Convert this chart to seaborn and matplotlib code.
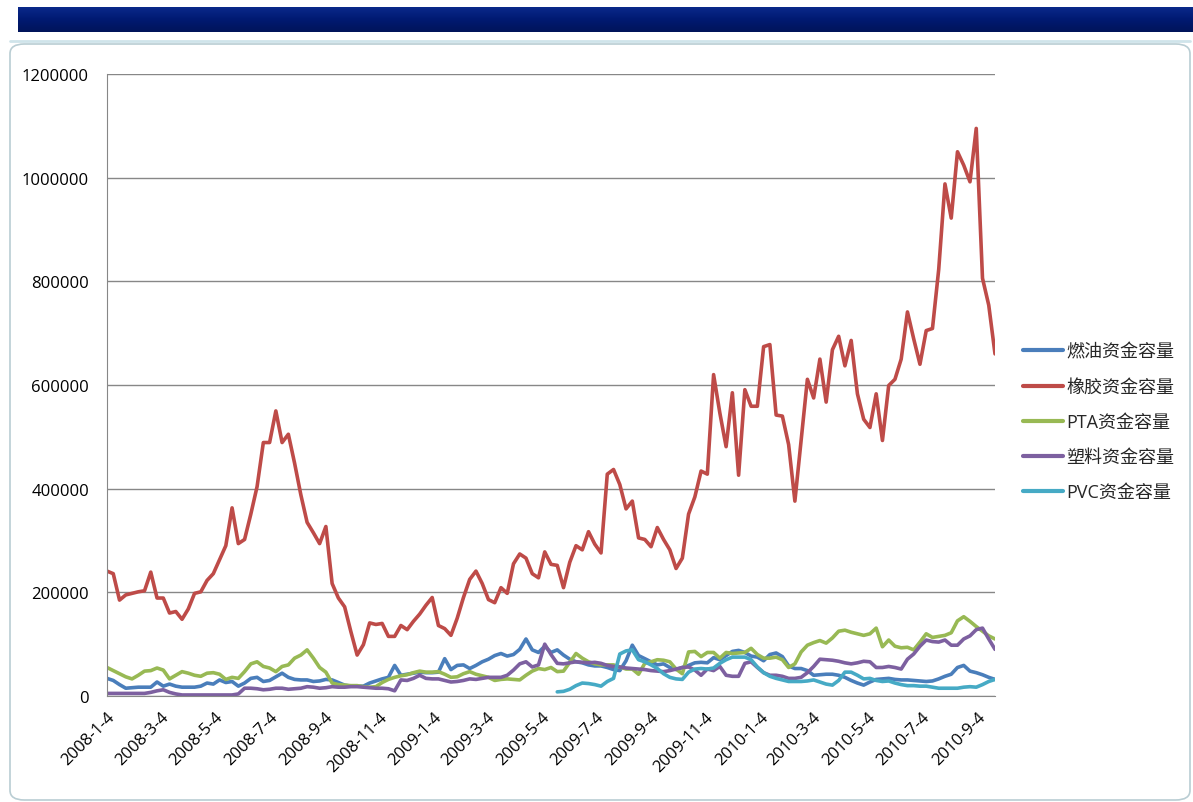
import seaborn as sns
import matplotlib.pyplot as plt
import matplotlib.dates as mdates
from matplotlib.patches import FancyBboxPatch
import pandas as pd
import numpy as np

# weekly observations, values in thousands
dates = pd.date_range('2008-01-04', periods=143, freq='7D')

rubber = [241, 236, 185, 195, 198, 201, 203, 239, 189, 189,
          160, 163, 148, 168, 198, 201, 223, 236, 263, 290,
          363, 294, 302, 351, 404, 489, 489, 550, 489, 505,
          449, 388, 335, 315, 294, 327, 217, 189, 172, 124,
          79, 99, 141, 138, 140, 115, 115, 136, 128, 144,
          158, 175, 190, 136, 130, 117, 150, 190, 225, 241,
          217, 186, 180, 209, 198, 255, 274, 266, 236, 228,
          278, 254, 252, 209, 258, 290, 282, 317, 293, 276,
          428, 437, 408, 361, 376, 305, 302, 288, 325, 302,
          282, 246, 266, 351, 384, 434, 428, 620, 546, 481,
          585, 426, 591, 559, 559, 674, 678, 542, 540, 485,
          376, 493, 611, 575, 650, 567, 668, 694, 637, 686,
          583, 534, 518, 583, 493, 599, 611, 650, 741, 689,
          640, 705, 709, 823, 988, 922, 1050, 1024, 992, 1095,
          806, 754, 660]

pta = [55, 49, 43, 37, 33, 40, 48, 49, 54, 50,
       33, 40, 47, 44, 40, 38, 44, 45, 42, 32,
       36, 34, 47, 62, 66, 57, 54, 47, 57, 60,
       73, 79, 89, 73, 55, 46, 25, 22, 21, 20,
       20, 18, 17, 18, 26, 32, 36, 39, 41, 45,
       48, 46, 46, 47, 42, 36, 37, 43, 47, 42,
       39, 36, 30, 32, 33, 32, 31, 40, 48, 53,
       51, 55, 47, 48, 65, 82, 73, 66, 62, 60,
       60, 60, 56, 52, 52, 42, 63, 66, 70, 69,
       66, 52, 43, 85, 86, 76, 84, 84, 73, 84,
       82, 83, 84, 92, 80, 73, 73, 75, 70, 55,
       62, 85, 98, 103, 107, 102, 112, 125, 127, 123,
       120, 117, 120, 131, 95, 108, 96, 93, 94, 89,
       104, 120, 113, 115, 117, 122, 145, 153, 144, 134,
       125, 116, 110]

fuel_oil = [34, 30, 22, 15, 16, 17, 17, 17, 27, 19,
            23, 19, 17, 17, 17, 19, 25, 23, 31, 26,
            28, 19, 25, 34, 36, 28, 30, 37, 44, 36,
            32, 31, 31, 28, 29, 32, 31, 26, 21, 19,
            19, 19, 25, 29, 33, 36, 59, 40, 42, 44,
            46, 45, 45, 46, 72, 51, 59, 60, 53, 59,
            66, 71, 78, 82, 77, 80, 90, 110, 89, 84,
            96, 84, 89, 79, 71, 66, 64, 60, 58, 58,
            55, 51, 49, 68, 98, 78, 72, 66, 60, 62,
            55, 51, 55, 59, 64, 65, 64, 74, 70, 78,
            86, 88, 84, 77, 75, 68, 80, 83, 76, 58,
            53, 53, 49, 40, 41, 42, 42, 40, 36, 30,
            25, 21, 27, 32, 33, 34, 32, 31, 31, 30,
            29, 28, 29, 33, 38, 42, 55, 59, 48, 45,
            41, 36, 32]

plastic = [5, 5, 5, 5, 5, 5, 5, 7, 10, 12,
           7, 4, 2, 2, 2, 2, 2, 2, 2, 2,
           2, 4, 15, 15, 14, 12, 13, 15, 15, 13,
           14, 15, 18, 17, 15, 16, 18, 17, 17, 18,
           18, 17, 16, 15, 15, 14, 10, 31, 30, 34,
           40, 34, 33, 33, 30, 27, 28, 30, 33, 32,
           34, 36, 36, 36, 40, 50, 62, 66, 56, 60,
           100, 80, 63, 62, 64, 66, 65, 64, 65, 63,
           59, 57, 56, 54, 53, 52, 51, 49, 48, 47,
           49, 52, 55, 56, 50, 40, 52, 49, 57, 40,
           38, 38, 63, 66, 55, 45, 40, 40, 38, 34,
           34, 36, 45, 57, 71, 70, 69, 67, 64, 62,
           64, 67, 66, 55, 55, 57, 55, 52, 71, 81,
           96, 108, 105, 104, 108, 98, 98, 110, 116, 128,
           131, 110, 90]

pvc = [np.nan] * 72 + [
    8, 9, 13, 20, 25, 24, 22, 19, 28, 34,
    81, 87, 89, 70, 66, 60, 53, 43, 36, 33,
    32, 46, 52, 53, 52, 54, 63, 70, 75, 75,
    75, 70, 56, 45, 38, 34, 31, 28, 28, 28,
    29, 31, 27, 23, 21, 30, 46, 46, 40, 33,
    34, 30, 28, 29, 25, 22, 20, 20, 19, 19,
    17, 15, 15, 15, 15, 17, 18, 17, 22, 28,
    32]

names = ['燃油资金容量', '橡胶资金容量', 'PTA资金容量', '塑料资金容量', 'PVC资金容量']
colors = ['#4a7ebb', '#be4b48', '#98b954', '#7d60a0', '#46aac5']
series = [fuel_oil, rubber, pta, plastic, pvc]

frames = []
for name, vals in zip(names, series):
    frames.append(pd.DataFrame({'date': dates, 'value': np.array(vals, dtype=float) * 1000, 'series': name}))
df = pd.concat(frames, ignore_index=True)

sns.set_style('white')
plt.rcParams['font.family'] = ['Open Sans', 'Noto Sans CJK SC', 'DejaVu Sans']

W, H = 1193, 803
fig = plt.figure(figsize=(W / 100, H / 100), dpi=100)

# excel window decoration
bar = fig.add_axes([18 / W, 1 - 33 / H, (W - 18) / W, 25 / H])
grad = np.linspace(0, 1, 50).reshape(-1, 1)
bar.imshow(grad, aspect='auto', cmap=sns.blend_palette(['#0b2a8c', '#001a72', '#00145a'], as_cmap=True))
bar.set_axis_off()
fig.patches.append(plt.Line2D([10 / W, 1190 / W], [1 - 42 / H, 1 - 42 / H], color='#cfe4ea', lw=2,
                              transform=fig.transFigure))
fig.patches.append(FancyBboxPatch((10 / W, 2 / H), 1180 / W, (H - 47) / H,
                                  boxstyle='round,pad=0,rounding_size=0.012', fc='white', ec='#b9cdd3', lw=1.2,
                                  transform=fig.transFigure, zorder=-1))

ax = fig.add_axes([107 / W, 1 - 697 / H, (995 - 107) / W, (697 - 75) / H])
ax.patch.set_alpha(0)
sns.lineplot(data=df, x='date', y='value', hue='series', hue_order=names, palette=colors,
             linewidth=2.6, estimator=None, ax=ax)

ax.set_ylim(0, 1200000)
ax.set_yticks(np.arange(0, 1200001, 200000))
ax.yaxis.set_major_formatter(plt.FuncFormatter(lambda v, p: '%d' % v))
ax.set_xlim(dates[0], dates[-1])
ax.xaxis.set_major_locator(mdates.MonthLocator(bymonth=[1, 3, 5, 7, 9, 11], bymonthday=4))
ax.xaxis.set_major_formatter(plt.FuncFormatter(
    lambda v, p: '{d.year}-{d.month}-{d.day}'.format(d=mdates.num2date(v))))
ax.grid(axis='y', color='#878787', lw=1)
ax.set_axisbelow(True)
for s in ['top', 'right']:
    ax.spines[s].set_visible(False)
for s in ['left', 'bottom']:
    ax.spines[s].set_color('#878787')
ax.tick_params(axis='both', direction='out', length=5, color='#878787', labelsize=12, labelcolor='black')
ax.tick_params(axis='y', pad=8)
ax.tick_params(axis='x', pad=4)
plt.setp(ax.get_xticklabels(), rotation=45, ha='right', rotation_mode='anchor')
ax.set_xlabel('')
ax.set_ylabel('')

handles, labels = ax.get_legend_handles_labels()
ax.legend(handles, labels, loc='center left', bbox_to_anchor=(1007 / W, 1 - 423 / H),
          bbox_transform=fig.transFigure, frameon=False, fontsize=13, handlelength=2.2,
          handletextpad=0.2, labelspacing=0.95)
for line in ax.get_legend().get_lines():
    line.set_linewidth(3)

plt.savefig('out.png', dpi=100)
